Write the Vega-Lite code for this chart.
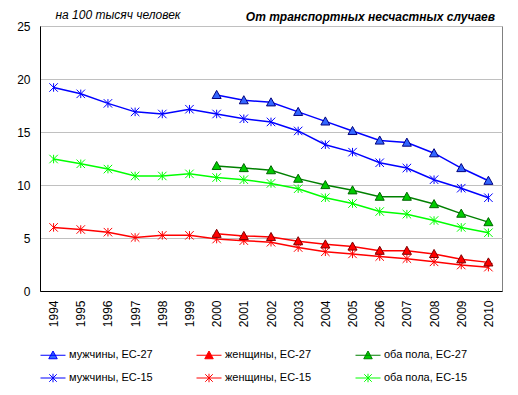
{
  "$schema": "https://vega.github.io/schema/vega-lite/v6.json",
  "width": 462,
  "height": 265,
  "autosize": {"type": "none"},
  "padding": {"left": 40, "top": 26, "right": 16, "bottom": 104},
  "background": "white",
  "config": {
    "font": "Liberation Sans",
    "view": {"stroke": "#808080", "strokeWidth": 1}
  },
  "title": {
    "text": "От транспортных несчастных случаев",
    "anchor": "end",
    "font": "Liberation Sans",
    "fontStyle": "italic",
    "fontWeight": "bold",
    "fontSize": 12,
    "color": "black",
    "offset": 7,
    "baseline": "alphabetic",
    "dx": -7,
    "dy": 32
  },
  "data": {
    "values": [
      {"year": "1994", "m15": 19.2, "f15": 6.0, "b15": 12.45},
      {"year": "1995", "m15": 18.6, "f15": 5.8, "b15": 12.0},
      {"year": "1996", "m15": 17.7, "f15": 5.55, "b15": 11.5},
      {"year": "1997", "m15": 16.9, "f15": 5.05, "b15": 10.85},
      {"year": "1998", "m15": 16.7, "f15": 5.25, "b15": 10.85},
      {"year": "1999", "m15": 17.15, "f15": 5.25, "b15": 11.05},
      {"year": "2000", "m27": 18.5, "f27": 5.4, "b27": 11.8, "m15": 16.7, "f15": 4.9, "b15": 10.7},
      {"year": "2001", "m27": 18.0, "f27": 5.2, "b27": 11.6, "m15": 16.25, "f15": 4.75, "b15": 10.5},
      {"year": "2002", "m27": 17.8, "f27": 5.1, "b27": 11.4, "m15": 15.95, "f15": 4.6, "b15": 10.15},
      {"year": "2003", "m27": 16.9, "f27": 4.7, "b27": 10.6, "m15": 15.1, "f15": 4.1, "b15": 9.65},
      {"year": "2004", "m27": 16.0, "f27": 4.4, "b27": 10.0, "m15": 13.8, "f15": 3.7, "b15": 8.8},
      {"year": "2005", "m27": 15.1, "f27": 4.2, "b27": 9.5, "m15": 13.1, "f15": 3.5, "b15": 8.25},
      {"year": "2006", "m27": 14.2, "f27": 3.8, "b27": 8.9, "m15": 12.1, "f15": 3.25, "b15": 7.5},
      {"year": "2007", "m27": 14.0, "f27": 3.8, "b27": 8.9, "m15": 11.6, "f15": 3.05, "b15": 7.25},
      {"year": "2008", "m27": 13.0, "f27": 3.5, "b27": 8.2, "m15": 10.5, "f15": 2.75, "b15": 6.65},
      {"year": "2009", "m27": 11.6, "f27": 3.0, "b27": 7.3, "m15": 9.7, "f15": 2.45, "b15": 6.0},
      {"year": "2010", "m27": 10.4, "f27": 2.7, "b27": 6.5, "m15": 8.8, "f15": 2.25, "b15": 5.5}
    ]
  },
  "transform": [
    {"fold": ["m27", "f27", "b27", "m15", "f15", "b15"], "as": ["key", "value"]},
    {"filter": "isValid(datum.value)"}
  ],
  "encoding": {
    "x": {
      "field": "year",
      "type": "ordinal",
      "scale": {"type": "point", "padding": 0.5},
      "axis": {
        "title": null,
        "labelAngle": -90,
        "ticks": false,
        "domainColor": "black",
        "labelPadding": 9,
        "labelFontSize": 12,
        "labelColor": "black",
        "grid": false
      }
    },
    "y": {
      "field": "value",
      "type": "quantitative",
      "scale": {"domain": [0, 25], "nice": false},
      "axis": {
        "values": [0, 5, 10, 15, 20, 25],
        "title": "на 100 тысяч человек",
        "titleAngle": 0,
        "titleX": 15,
        "titleY": -8,
        "titleAlign": "left",
        "titleBaseline": "alphabetic",
        "titleFontStyle": "italic",
        "titleFontWeight": "normal",
        "titleFontSize": 12,
        "titleColor": "black",
        "ticks": false,
        "domainColor": "black",
        "gridColor": "#C0C0C0",
        "labelPadding": 10,
        "labelFontSize": 12,
        "labelColor": "black"
      }
    }
  },
  "layer": [
    {
      "mark": {"type": "line", "strokeWidth": 1.5},
      "encoding": {
        "color": {
          "field": "key",
          "type": "nominal",
          "scale": {
            "domain": ["m27", "f27", "b27", "m15", "f15", "b15"],
            "range": ["#0000FF", "#FF0000", "#008000", "#0000FF", "#FF0000", "#00FF00"]
          },
          "legend": {
            "title": null,
            "orient": "none",
            "legendX": 0,
            "legendY": 316,
            "direction": "horizontal",
            "columns": 3,
            "columnPadding": 41,
            "rowPadding": 4,
            "symbolSize": 625,
            "symbolStrokeWidth": 1,
            "labelFontSize": 11,
            "labelOffset": 3,
            "labelColor": "black",
            "labelExpr": "datum.value == 'm27' ? 'мужчины, ЕС-27' : datum.value == 'f27' ? 'женщины, ЕС-27\u00a0\u00a0\u00a0\u00a0\u00a0' : datum.value == 'b27' ? 'оба пола, ЕС-27' : datum.value == 'm15' ? 'мужчины, ЕС-15' : datum.value == 'f15' ? 'женщины, ЕС-15\u00a0\u00a0\u00a0\u00a0\u00a0' : 'оба пола, ЕС-15'",
            "encode": {
              "symbols": {
                "update": {
                  "shape": {"signal": "indexof(['m27','f27','b27'], datum.value) >= 0 ? 'M-1,0H1M0,-0.34L0.34,0.28H-0.34Z' : 'M-1,0H1M-0.3,-0.3L0.3,0.3M-0.3,0.3L0.3,-0.3M0,-0.34V0.34'"},
                  "fill": {"signal": "datum.value == 'm27' ? '#3366FF' : datum.value == 'f27' ? '#FF0000' : datum.value == 'b27' ? '#00CC00' : 'transparent'"},
                  "fillOpacity": {"value": 1},
                  "strokeWidth": {"value": 1}
                }
              }
            }
          }
        }
      }
    },
    {
      "transform": [{"filter": "indexof(['m15','f15','b15'], datum.key) >= 0"}],
      "mark": {
        "type": "point",
        "filled": false,
        "shape": "M-1,-1L1,1M-1,1L1,-1M0,-1V1",
        "size": 72,
        "strokeWidth": 1,
        "opacity": 1
      },
      "encoding": {
        "color": {"field": "key", "type": "nominal", "legend": null}
      }
    },
    {
      "transform": [{"filter": "indexof(['m27','f27','b27'], datum.key) >= 0"}],
      "mark": {
        "type": "point",
        "filled": true,
        "shape": "M0,-1L1,0.8H-1Z",
        "size": 81,
        "strokeWidth": 1,
        "opacity": 1
      },
      "encoding": {
        "fill": {
          "field": "key",
          "type": "nominal",
          "scale": {"domain": ["m27", "f27", "b27"], "range": ["#3366FF", "#FF0000", "#00CC00"]},
          "legend": null
        },
        "stroke": {
          "field": "key",
          "type": "nominal",
          "scale": {"domain": ["m27", "f27", "b27"], "range": ["#000080", "#800000", "#006600"]},
          "legend": null
        }
      }
    }
  ]
}
